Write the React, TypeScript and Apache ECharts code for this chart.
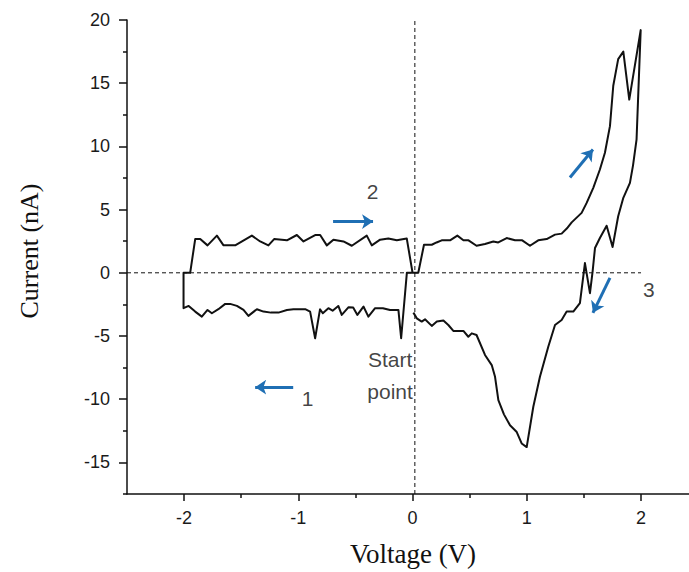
import React, { useEffect, useRef } from "react";
import * as echarts from "echarts";

// Cyclic I–V sweep, split into its four legs: [voltage (V), current (nA)]
const legToNegativeLower: [number, number][] = [
  [0.0, 0], [-0.05, 0], [-0.1, -5.18], [-0.124, -2.94], [-0.197, -2.94], [-0.26, -2.8],
  [-0.328, -2.8], [-0.387, -3.47], [-0.43, -2.67], [-0.483, -3.33], [-0.52, -2.75],
  [-0.56, -2.72], [-0.62, -3.33], [-0.65, -2.62], [-0.7, -3.0], [-0.737, -2.8],
  [-0.786, -3.2], [-0.81, -2.88], [-0.853, -5.18], [-0.897, -3.07], [-0.94, -2.88],
  [-1.043, -2.88], [-1.1, -2.94], [-1.174, -3.15], [-1.24, -3.15], [-1.305, -3.07],
  [-1.363, -2.88], [-1.437, -3.41], [-1.48, -2.94], [-1.538, -2.62], [-1.597, -2.46],
  [-1.64, -2.46], [-1.7, -2.88], [-1.757, -3.2], [-1.795, -2.94], [-1.845, -3.47],
  [-1.903, -3.07], [-1.96, -2.62], [-2.005, -2.8],
];

const legReturnUpperLeft: [number, number][] = [
  [-2.005, 0], [-1.947, 0], [-1.903, 2.67], [-1.859, 2.67], [-1.795, 2.17], [-1.713, 2.94],
  [-1.655, 2.17], [-1.553, 2.17], [-1.407, 2.94], [-1.334, 2.48], [-1.262, 2.17],
  [-1.212, 2.67], [-1.1, 2.57], [-1.013, 2.99], [-0.955, 2.48], [-0.853, 2.99],
  [-0.809, 2.99], [-0.751, 2.17], [-0.693, 2.62], [-0.605, 2.48], [-0.532, 2.14],
  [-0.401, 2.94], [-0.357, 2.17], [-0.284, 2.62], [-0.212, 2.72], [-0.138, 2.57],
  [-0.051, 2.72], [0.0, 0],
];

const legToPositiveUpper: [number, number][] = [
  [0.05, 0], [0.1, 2.22], [0.168, 2.22], [0.21, 2.4], [0.255, 2.57], [0.328, 2.57],
  [0.392, 2.94], [0.445, 2.57], [0.49, 2.57], [0.56, 2.14], [0.634, 2.28], [0.707, 2.48],
  [0.75, 2.4], [0.824, 2.75], [0.897, 2.57], [0.96, 2.57], [1.028, 2.14], [1.1, 2.57],
  [1.174, 2.67], [1.247, 3.02], [1.305, 3.1], [1.35, 3.5], [1.393, 3.99], [1.48, 4.74],
  [1.524, 5.53], [1.582, 6.72], [1.64, 8.17], [1.684, 9.5], [1.728, 11.6], [1.757, 14.8],
  [1.8, 16.9], [1.845, 17.5], [1.897, 13.7], [1.997, 19.2],
];

const legReturnLowerRight: [number, number][] = [
  [1.961, 10.56], [1.93, 8.5], [1.903, 7.12], [1.845, 5.93], [1.8, 4.47], [1.751, 2.04],
  [1.699, 3.73], [1.64, 2.75], [1.597, 1.96], [1.576, 0.1], [1.553, -1.61], [1.509, 0.77],
  [1.465, -2.4], [1.407, -3.07], [1.349, -3.07], [1.305, -3.73], [1.247, -4.13],
  [1.188, -5.85], [1.115, -8.23], [1.057, -10.6], [0.999, -13.79], [0.955, -13.5],
  [0.912, -12.6], [0.853, -12.06], [0.8, -11.2], [0.751, -10.08], [0.722, -8.23],
  [0.693, -7.3], [0.634, -6.5], [0.56, -4.92], [0.518, -4.79], [0.488, -5.06],
  [0.445, -4.6], [0.357, -4.6], [0.313, -4.13], [0.27, -3.78], [0.212, -3.86],
  [0.168, -4.2], [0.109, -3.68], [0.08, -3.86], [0.037, -3.6], [0.007, -3.15],
];

// Axes
const xRange = [-2.5, 2.42];
const yRange = [-17.5, 20];
const xMajorTicks = [-2, -1, 0, 1, 2];
const xMinorTicks = [-1.5, -0.5, 0.5, 1.5];
const yMajorTicks = [-15, -10, -5, 0, 5, 10, 15, 20];
const yMinorTicks = [-17.5, -12.5, -7.5, -2.5, 2.5, 7.5, 12.5, 17.5];

// Dashed reference lines through the origin
const zeroCurrentLine: [number, number][] = [[-2.5, 0], [2.0, 0]];
const zeroVoltageLine: [number, number][] = [[0.02, -17.5], [0.02, 20]];

// Sweep-direction arrows (from → to)
const sweepArrows: [number, number][][] = [
  [[-1.045, -9.05], [-1.378, -9.05]],
  [[-0.696, 4.05], [-0.346, 4.05]],
  [[1.378, 7.54], [1.579, 9.76]],
  [[1.728, -0.4], [1.579, -3.17]],
];

// Leg numbers and start marker
const legLabels: { text: string; at: [number, number] }[] = [
  { text: "1", at: [-0.919, -9.96] },
  { text: "2", at: [-0.35, 6.47] },
  { text: "3", at: [2.069, -1.31] },
  { text: "Start", at: [-0.197, -6.83] },
  { text: "point", at: [-0.197, -9.37] },
];

const sweep = [
  ...legToNegativeLower,
  ...legReturnUpperLeft,
  ...legToPositiveUpper,
  ...legReturnLowerRight,
];

const SANS = "Arial, 'Liberation Sans', sans-serif";
const SERIF = "'Times New Roman', 'Liberation Serif', serif";

export default function App() {
  const ref = useRef<HTMLDivElement>(null);

  useEffect(() => {
    if (!ref.current) return;
    const chart = echarts.init(ref.current, undefined, { renderer: "svg" });

    const axisColor = "#111";
    const baseX = {
      type: "value" as const,
      min: xRange[0],
      max: xRange[1],
      position: "bottom" as const,
      splitLine: { show: false },
    };
    const baseY = {
      type: "value" as const,
      min: yRange[0],
      max: yRange[1],
      position: "left" as const,
      splitLine: { show: false },
    };

    chart.setOption({
      animation: false,
      backgroundColor: "#fff",
      grid: { left: 127, right: 0, top: 20, bottom: 78, containLabel: false },
      xAxis: [
        {
          ...baseX,
          axisLine: { show: true, onZero: false, lineStyle: { color: axisColor, width: 1.5 } },
          axisTick: {
            show: true,
            customValues: xMajorTicks,
            length: 7,
            lineStyle: { color: axisColor, width: 1.5 },
          },
          axisLabel: {
            customValues: xMajorTicks,
            color: "#1a1a1a",
            fontSize: 18,
            fontFamily: SANS,
            margin: 15,
          },
        },
        {
          ...baseX,
          axisLine: { show: false, onZero: false },
          axisTick: {
            show: true,
            customValues: xMinorTicks,
            length: 4,
            lineStyle: { color: axisColor, width: 1.5 },
          },
          axisLabel: { show: false },
        },
      ],
      yAxis: [
        {
          ...baseY,
          axisLine: { show: true, onZero: false, lineStyle: { color: axisColor, width: 1.5 } },
          axisTick: {
            show: true,
            customValues: yMajorTicks,
            length: 8,
            lineStyle: { color: axisColor, width: 1.5 },
          },
          axisLabel: {
            customValues: yMajorTicks,
            color: "#1a1a1a",
            fontSize: 18,
            fontFamily: SANS,
            margin: 17,
          },
        },
        {
          ...baseY,
          axisLine: { show: false, onZero: false },
          axisTick: {
            show: true,
            customValues: yMinorTicks,
            length: 4,
            lineStyle: { color: axisColor, width: 1.5 },
          },
          axisLabel: { show: false },
        },
      ],
      series: [
        {
          type: "line",
          data: zeroCurrentLine,
          showSymbol: false,
          silent: true,
          lineStyle: { color: "#111", width: 1, type: [4, 3] },
        },
        {
          type: "line",
          data: zeroVoltageLine,
          showSymbol: false,
          silent: true,
          lineStyle: { color: "#111", width: 1, type: [4, 3] },
        },
        {
          type: "line",
          data: sweep,
          showSymbol: false,
          lineStyle: { color: "#111", width: 2, join: "round" },
        },
        {
          type: "lines",
          coordinateSystem: "cartesian2d",
          xAxisIndex: 0,
          yAxisIndex: 0,
          symbol: ["none", "arrow"],
          symbolSize: 11,
          lineStyle: { color: "#1f6fb4", width: 3, opacity: 1, curveness: 0 },
          data: sweepArrows.map((c) => ({ coords: c })),
        },
        {
          type: "scatter",
          symbolSize: 0,
          silent: true,
          data: legLabels.map((l) => ({ value: l.at, name: l.text })),
          label: {
            show: true,
            position: "inside",
            formatter: (p: any) => p.name,
            color: "#111",
            fontSize: 21,
            fontFamily: SANS,
          },
        },
      ],
      graphic: [
        {
          type: "text",
          x: 413,
          y: 554,
          style: {
            text: "Voltage (V)",
            font: `27px ${SERIF}`,
            fill: "#111",
            align: "center",
            verticalAlign: "middle",
            textAlign: "center",
            textVerticalAlign: "middle",
          },
        },
        {
          type: "text",
          x: 29,
          y: 251,
          rotation: Math.PI / 2,
          style: {
            text: "Current (nA)",
            font: `26px ${SERIF}`,
            fill: "#111",
            align: "center",
            verticalAlign: "middle",
            textAlign: "center",
            textVerticalAlign: "middle",
          },
        },
      ],
    });

    return () => chart.dispose();
  }, []);

  return (
    <div
      ref={ref}
      style={{ position: "fixed", left: 0, top: 0, width: 689, height: 572, background: "#fff" }}
    />
  );
}
